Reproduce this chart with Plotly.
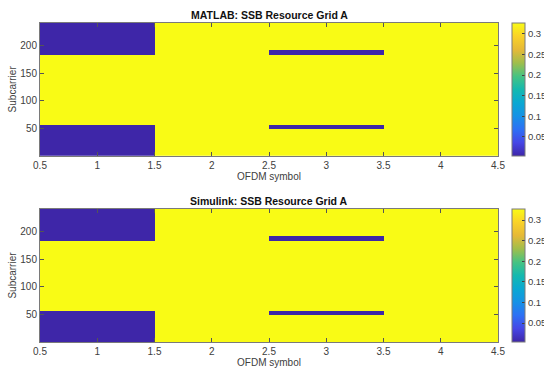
import plotly.graph_objects as go

# ---- data ----
symbols = [1, 2, 3, 4]
n_subcarriers = 240
filled_value = 0.327
empty_value = 0.0
# empty (zero) subcarrier bands per OFDM symbol, 1-based inclusive
empty_bands = {
    1: [(1, 56), (184, 240)],
    2: [],
    3: [(49, 56), (184, 192)],
    4: [],
}
titles = ["MATLAB: SSB Resource Grid A", "Simulink: SSB Resource Grid A"]
cbar_ticks = [0.05, 0.1, 0.15, 0.2, 0.25, 0.3]
x_ticks = [0.5, 1, 1.5, 2, 2.5, 3, 3.5, 4, 4.5]
y_ticks = [50, 100, 150, 200]

subcarriers = list(range(1, n_subcarriers + 1))
z = []
for k in subcarriers:
    row = []
    for s in symbols:
        v = filled_value
        for a, b in empty_bands[s]:
            if a <= k <= b:
                v = empty_value
        row.append(v)
    z.append(row)

parula = [
    [0.0, "rgb(62,38,168)"], [0.1, "rgb(70,70,230)"], [0.2, "rgb(45,112,245)"],
    [0.3, "rgb(22,146,230)"], [0.4, "rgb(10,168,210)"], [0.5, "rgb(20,185,175)"],
    [0.6, "rgb(70,195,130)"], [0.7, "rgb(160,190,75)"], [0.8, "rgb(230,185,55)"],
    [0.9, "rgb(250,210,40)"], [1.0, "rgb(249,251,21)"],
]

W, H = 544, 369
L, R, T, B = 40.0, 498.5, 23.3, 342.3
PW, PH = R - L, B - T
fig = go.Figure()
font = dict(family="Liberation Sans, Arial, sans-serif", size=10, color="#404040")

panels = [(23.3, 156.0), (209.3, 342.3)]
for i, (top, bot) in enumerate(panels):
    ax = "" if i == 0 else str(i + 1)
    fig.add_trace(go.Heatmap(
        x=symbols, y=subcarriers, z=z, colorscale=parula,
        zmin=0.004, zmax=0.327, xaxis="x" + ax, yaxis="y" + ax,
        showscale=True,
        colorbar=dict(
            x=(512.7 - L) / PW, xanchor="left", thickness=13, thicknessmode="pixels",
            len=bot - top, lenmode="pixels", y=(B - (top + bot) / 2) / PH, yanchor="middle",
            tickvals=cbar_ticks, ticktext=[str(t) for t in cbar_ticks],
            ticks="inside", ticklen=3, tickcolor="#404040",
            outlinecolor="#7a7a7a", outlinewidth=1, tickfont=dict(size=9.5, color="#404040",
                                                                   family="Liberation Sans, Arial, sans-serif"),
            xpad=0, ypad=0,
        ),
        hoverinfo="skip",
    ))
    common = dict(showline=True, linecolor="#7a7a7a", linewidth=1, mirror="ticks",
                  ticks="inside", ticklen=4, tickcolor="#555555", showgrid=False,
                  zeroline=False, tickfont=font, automargin=False)
    fig.update_layout(**{
        "xaxis" + ax: dict(domain=[0, 1], range=[0.5, 4.5], tickvals=x_ticks,
                           ticktext=[("%g" % t) for t in x_ticks], anchor="y" + ax,
                           title=dict(text="OFDM symbol", font=font, standoff=2), **common),
        "yaxis" + ax: dict(domain=[(B - bot) / PH, (B - top) / PH], range=[0.5, 240.5], tickvals=y_ticks,
                           anchor="x" + ax,
                           title=dict(text="Subcarrier", font=font, standoff=1), **common),
    })
    fig.add_annotation(text="<b>" + titles[i] + "</b>", x=0.5, y=(B - (top - 8)) / PH,
                       xref="paper", yref="paper", showarrow=False, yanchor="middle",
                       font=dict(family="Liberation Sans, Arial, sans-serif", size=10.5, color="#111111"))

fig.update_layout(width=W, height=H, margin=dict(l=L, r=W - R, t=T, b=H - B, autoexpand=False),
                  paper_bgcolor="white", plot_bgcolor="white", showlegend=False)
fig.write_html("out.html")
